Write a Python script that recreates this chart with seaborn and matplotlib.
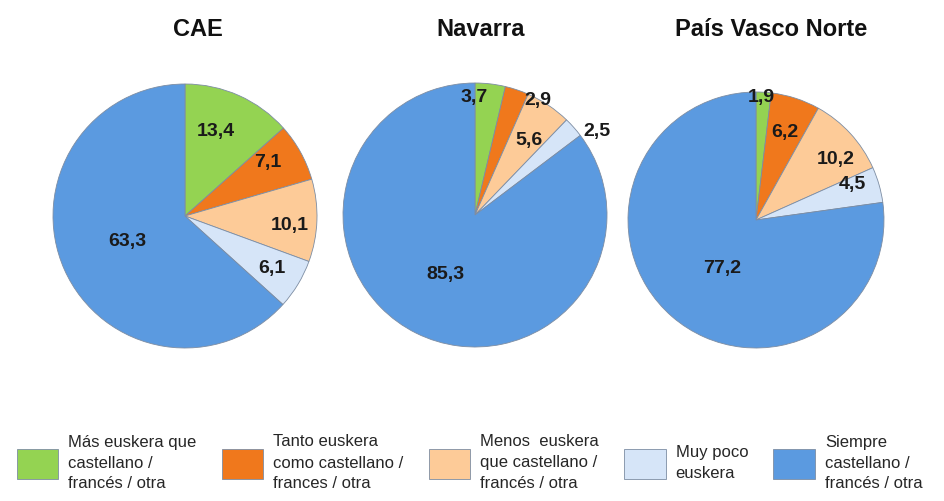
import numpy as np
import matplotlib.pyplot as plt
import seaborn as sns

# datos (%)
regions = ['CAE', 'Navarra', 'País Vasco Norte']
categories = [
    'Más euskera que\ncastellano /\nfrancés / otra',
    'Tanto euskera\ncomo castellano /\nfrances / otra',
    'Menos  euskera\nque castellano /\nfrancés / otra',
    'Muy poco\neuskera',
    'Siempre\ncastellano /\nfrancés / otra',
]
cae = [13.4, 7.1, 10.1, 6.1, 63.3]
navarra = [3.7, 2.9, 5.6, 2.5, 85.3]
pais_vasco_norte = [1.9, 6.2, 10.2, 4.5, 77.2]

colors = ['#94d352', '#f0781c', '#fdcb98', '#d6e5f8', '#5b9ae0']

sns.set_theme(style='white')
plt.rcParams['font.family'] = ['Liberation Sans', 'DejaVu Sans']

W, H = 944, 501
fig = plt.figure(figsize=(W / 100, H / 100), dpi=100)

# posición de cada tarta en píxeles: centro x, centro y, radio, centro del título
layout = [(185, 216, 132, 198), (475, 215, 132, 481), (756, 220, 128, 771)]
# ajuste de etiquetas: (radio relativo, desplazamiento angular en grados)
label_adj = [
    [(0.68, 4), (0.75, 4), (0.80, -3), (0.77, 0), (0.48, 0)],
    [(0.89, 7), (0.99, -10), (0.70, -2), (1.12, -7), (0.50, 0)],
    [(0.96, 1), (0.72, 0), (0.78, -5), (0.80, 4), (0.46, 6)],
]

wedges_ref = None
for (name, vals, (cx, cy, r, tx), adj) in zip(
        regions, [cae, navarra, pais_vasco_norte], layout, label_adj):
    ax = fig.add_axes([(cx - r) / W, (H - cy - r) / H, 2 * r / W, 2 * r / H])
    wedges, _ = ax.pie(vals, colors=colors, startangle=90, counterclock=False,
                       wedgeprops=dict(edgecolor='#7d8da3', linewidth=0.6))
    ax.set_xlim(-1, 1)
    ax.set_ylim(-1, 1)
    for w, v, (rr, dth) in zip(wedges, vals, adj):
        ang = np.deg2rad((w.theta1 + w.theta2) / 2 + dth)
        ax.text(rr * np.cos(ang), rr * np.sin(ang), f'{v:.1f}'.replace('.', ','),
                ha='center', va='center', fontsize=14, fontweight='bold',
                color='#1a1a1a')
    fig.text(tx / W, 1 - 30 / H, name, ha='center', va='center',
             fontsize=17, fontweight='bold', color='#111111')
    if wedges_ref is None:
        wedges_ref = wedges

leg = fig.legend(wedges_ref, categories, loc='center left',
                 bbox_to_anchor=(10 / W, 1 - 463 / H),
                 ncol=5, frameon=False, fontsize=12, handlelength=2.5,
                 handleheight=2.4, handletextpad=0.6, columnspacing=1.5,
                 borderaxespad=0)
for t in leg.get_texts():
    t.set_linespacing(1.5)

fig.savefig('out.png', dpi=100)
